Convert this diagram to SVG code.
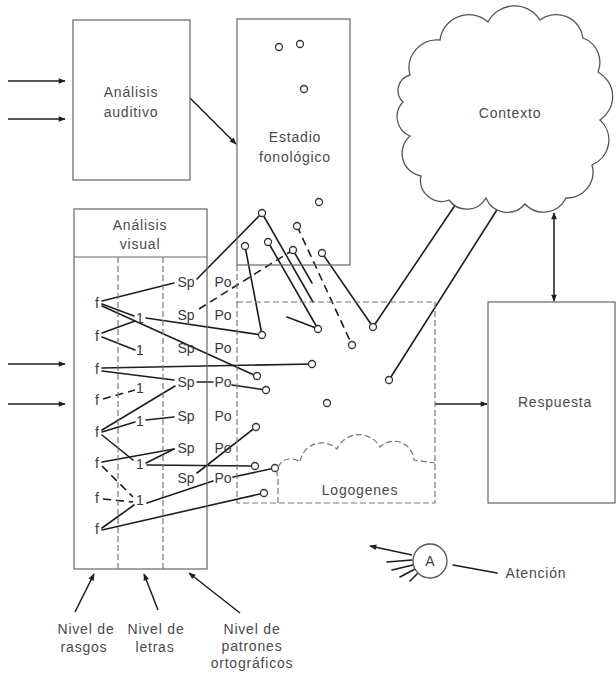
<svg xmlns="http://www.w3.org/2000/svg" width="616" height="681" viewBox="0 0 616 681">
<style>
.t{font-family:"Liberation Sans",Arial,sans-serif;font-size:14px;fill:#4a4a4a;letter-spacing:0.8px;text-anchor:middle}
.s{font-family:"Liberation Sans",Arial,sans-serif;font-size:14px;fill:#3a3a3a;text-anchor:middle}
.box{fill:none;stroke:#666;stroke-width:1.2}
.dbox{fill:none;stroke:#777;stroke-width:1.2;stroke-dasharray:6 3}
.ln{stroke:#1e1e1e;stroke-width:1.6;fill:none;stroke-linecap:round}
.dl{stroke:#1e1e1e;stroke-width:1.6;fill:none;stroke-dasharray:8 5}
.ar{stroke:#1e1e1e;stroke-width:1.5;fill:none;marker-end:url(#ah)}
.u{fill:#fff;stroke:#333;stroke-width:1.3}
</style>
<defs>
<marker id="ah" viewBox="0 0 10 10" refX="9" refY="5" markerUnits="userSpaceOnUse" markerWidth="8" markerHeight="7" orient="auto-start-reverse">
<path d="M0,1 L10,5 L0,9 z" fill="#1e1e1e"/>
</marker>
</defs>
<rect width="616" height="681" fill="#fff"/>

<g id="connectors">
<!-- inputs -->
<line class="ar" x1="8" y1="81" x2="65" y2="81"/>
<line class="ar" x1="8" y1="119" x2="65" y2="119"/>
<line class="ar" x1="8" y1="364" x2="65" y2="364"/>
<line class="ar" x1="8" y1="404" x2="65" y2="404"/>
<line class="ar" x1="190" y1="98" x2="236" y2="144"/>
<line class="ar" x1="435" y1="404" x2="487" y2="404"/>
<line class="ar" x1="554" y1="258" x2="554" y2="301"/>
<line class="ar" x1="554" y1="258" x2="554" y2="213"/>
<!-- level arrows -->
<line class="ar" x1="75" y1="612" x2="94" y2="574"/>
<line class="ar" x1="158" y1="610" x2="144" y2="574"/>
<line class="ar" x1="240" y1="613" x2="189" y2="573"/>
<!-- attention -->
<line class="ar" x1="412" y1="555" x2="370" y2="546"/>
<line class="ln" x1="387" y1="562" x2="412" y2="560"/>
<line class="ln" x1="392" y1="570" x2="413" y2="565"/>
<line class="ln" x1="400" y1="577" x2="415" y2="569"/>
<line class="ln" x1="410" y1="581" x2="418" y2="573"/>
<line class="ln" x1="453" y1="565" x2="497" y2="573"/>
<!-- network -->
<line class="ln" x1="102" y1="301" x2="174" y2="283"/>
<line class="ln" x1="102" y1="304" x2="134" y2="316"/>
<line class="ln" x1="102" y1="306" x2="254" y2="375"/>
<line class="ln" x1="102" y1="333" x2="135" y2="321"/>
<line class="ln" x1="102" y1="337" x2="135" y2="350"/>
<line class="ln" x1="146" y1="318" x2="262" y2="335"/>
<line class="ln" x1="197" y1="279" x2="262" y2="213"/>
<line class="ln" x1="262" y1="213" x2="313" y2="302"/>
<line class="dl" x1="199" y1="309" x2="293" y2="250"/>
<line class="ln" x1="245" y1="246" x2="262" y2="335"/>
<line class="ln" x1="268" y1="242" x2="318" y2="329"/>
<line class="dl" x1="297" y1="226" x2="352" y2="345"/>
<line class="ln" x1="293" y1="250" x2="312" y2="283"/>
<line class="ln" x1="322" y1="253" x2="373" y2="327"/>
<line class="ln" x1="287" y1="317" x2="316" y2="328"/>
<line class="ln" x1="470" y1="183" x2="373" y2="327"/>
<line class="ln" x1="500" y1="205" x2="389" y2="380"/>
<line class="ln" x1="102" y1="368" x2="312" y2="364"/>
<line class="ln" x1="102" y1="371" x2="174" y2="380"/>
<line class="ln" x1="197" y1="382" x2="213" y2="382"/>
<line class="ln" x1="232" y1="385" x2="266" y2="390"/>
<line class="dl" x1="103" y1="399" x2="135" y2="390"/>
<line class="ln" x1="102" y1="430" x2="175" y2="386"/>
<line class="ln" x1="102" y1="432" x2="135" y2="422"/>
<line class="ln" x1="146" y1="420" x2="174" y2="417"/>
<line class="ln" x1="102" y1="435" x2="133" y2="460"/>
<line class="ln" x1="146" y1="463" x2="174" y2="449"/>
<line class="ln" x1="102" y1="462" x2="174" y2="449"/>
<line class="ln" x1="147" y1="465" x2="255" y2="466"/>
<line class="dl" x1="102" y1="466" x2="133" y2="497"/>
<line class="dl" x1="103" y1="499" x2="133" y2="502"/>
<line class="ln" x1="102" y1="528" x2="134" y2="505"/>
<line class="ln" x1="147" y1="503" x2="213" y2="481"/>
<line class="ln" x1="233" y1="477" x2="275" y2="468"/>
<line class="ln" x1="197" y1="473" x2="256" y2="427"/>
<line class="ln" x1="102" y1="530" x2="264" y2="493"/>
</g>

<g id="units">
<circle class="u" cx="279" cy="47" r="3.5"/>
<circle class="u" cx="300" cy="44" r="3.5"/>
<circle class="u" cx="304" cy="89" r="3.5"/>
<circle class="u" cx="319" cy="202" r="3.5"/>
<circle class="u" cx="262" cy="213" r="3.5"/>
<circle class="u" cx="297" cy="226" r="3.5"/>
<circle class="u" cx="245" cy="246" r="3.5"/>
<circle class="u" cx="268" cy="242" r="3.5"/>
<circle class="u" cx="293" cy="250" r="3.5"/>
<circle class="u" cx="322" cy="253" r="3.5"/>
<circle class="u" cx="262" cy="335" r="3.5"/>
<circle class="u" cx="318" cy="329" r="3.5"/>
<circle class="u" cx="352" cy="345" r="3.5"/>
<circle class="u" cx="373" cy="327" r="3.5"/>
<circle class="u" cx="312" cy="364" r="3.5"/>
<circle class="u" cx="257" cy="376" r="3.5"/>
<circle class="u" cx="266" cy="390" r="3.5"/>
<circle class="u" cx="389" cy="380" r="3.5"/>
<circle class="u" cx="327" cy="403" r="3.5"/>
<circle class="u" cx="256" cy="427" r="3.5"/>
<circle class="u" cx="255" cy="466" r="3.5"/>
<circle class="u" cx="275" cy="468" r="3.5"/>
<circle class="u" cx="264" cy="493" r="3.5"/>
</g>

<g id="auditivo">
<rect class="box" x="73" y="20" width="117" height="160"/>
<text class="t" x="131" y="97">Análisis</text>
<text class="t" x="131" y="117">auditivo</text>
</g>

<g id="estadio">
<rect class="box" x="237" y="19" width="113" height="246"/>
<text class="t" x="295" y="142">Estadio</text>
<text class="t" x="295" y="162">fonológico</text>
</g>

<g id="contexto">
<path d="M410,75 A28,28 0 0 1 440,40 A29,29 0 0 1 488,22 A30,30 0 0 1 540,20 A27,27 0 0 1 583,38 A26,26 0 0 1 598,72 A28,28 0 0 1 600,120 A27,27 0 0 1 592,165 A26,26 0 0 1 566,198 A25,25 0 0 1 525,204 A23,23 0 0 1 486,198 A22,22 0 0 1 449,200 A21,21 0 0 1 421,176 A23,23 0 0 1 410,136 A21,21 0 0 1 403,102 A16,16 0 0 1 410,75 Z" fill="#fff" stroke="#555" stroke-width="1.3"/>
<text class="t" x="510" y="118">Contexto</text>
</g>

<g id="visual">
<rect class="box" x="74" y="209" width="133" height="360"/>
<line class="box" x1="74" y1="257" x2="207" y2="257"/>
<line class="dbox" x1="118" y1="257" x2="118" y2="569"/>
<line class="dbox" x1="163" y1="257" x2="163" y2="569"/>
<line class="dbox" x1="237" y1="265" x2="237" y2="302"/>
<text class="t" x="140" y="230">Análisis</text>
<text class="t" x="140" y="249">visual</text>
<g class="s">
<text x="97" y="308">f</text><text x="97" y="341">f</text><text x="97" y="374">f</text><text x="97" y="405">f</text>
<text x="97" y="437">f</text><text x="97" y="468">f</text><text x="97" y="503">f</text><text x="97" y="534">f</text>
<text x="140" y="323">1</text><text x="140" y="355">1</text><text x="140" y="393">1</text>
<text x="140" y="426">1</text><text x="140" y="469">1</text><text x="140" y="505">1</text>
<text x="186" y="287">Sp</text><text x="186" y="320">Sp</text><text x="186" y="353">Sp</text><text x="186" y="387">Sp</text>
<text x="186" y="421">Sp</text><text x="186" y="453">Sp</text><text x="186" y="483">Sp</text>
<text x="223" y="287">Po</text><text x="223" y="320">Po</text><text x="223" y="353">Po</text><text x="223" y="387">Po</text>
<text x="223" y="421">Po</text><text x="223" y="453">Po</text><text x="223" y="483">Po</text>
</g>
</g>

<g id="logogenes">
<rect class="dbox" x="237" y="302" width="198" height="201"/>
<path class="dbox" d="M278,503 V478 A14,14 0 0 1 300,462 A22,22 0 0 1 337,449 A24,24 0 0 1 380,447 A20,20 0 0 1 414,460 L435,463"/>
<text class="t" x="360" y="495">Logogenes</text>
</g>

<g id="respuesta">
<rect class="box" x="488" y="302" width="127" height="201"/>
<text class="t" x="555" y="407">Respuesta</text>
</g>

<g id="atencion">
<circle cx="430" cy="561" r="17" fill="#fff" stroke="#555" stroke-width="1.3"/>
<text class="s" x="430" y="566">A</text>
<text class="t" x="536" y="578">Atención</text>
</g>

<g id="niveles">
<text class="t" x="86" y="634">Nivel de</text>
<text class="t" x="84" y="652">rasgos</text>
<text class="t" x="156" y="634">Nivel de</text>
<text class="t" x="155" y="652">letras</text>
<text class="t" x="252" y="634">Nivel de</text>
<text class="t" x="252" y="651">patrones</text>
<text class="t" x="252" y="668">ortográficos</text>
</g>
</svg>
